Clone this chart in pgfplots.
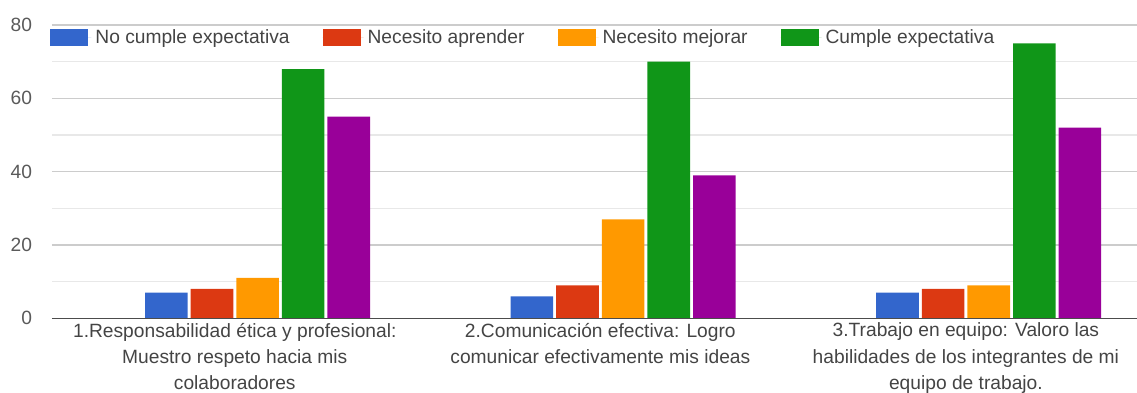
\documentclass[border=0pt]{standalone}
\usepackage{fontspec}
\setmainfont{Liberation Sans}
\usepackage{pgfplots}
\pgfplotsset{compat=1.18}
\definecolor{cblue}{HTML}{3366CC}
\definecolor{cred}{HTML}{DC3912}
\definecolor{corange}{HTML}{FF9900}
\definecolor{cgreen}{HTML}{109618}
\definecolor{cpurple}{HTML}{990099}
\definecolor{labgray}{HTML}{444444}
\definecolor{tickgray}{HTML}{5A5A5A}
\begin{document}
\begin{tikzpicture}
\path[use as bounding box] (-26pt,-36.85pt) rectangle (542.5pt,159.15pt);
\begin{axis}[
  at={(0pt,0pt)}, anchor=south west,
  scale only axis, width=542.5pt, height=146.65pt,
  ybar=1.5pt, bar width=21.3pt,
  xmin=-0.5, xmax=2.468, ymin=0, ymax=80,
  xtick={0,1,2},
  xticklabels={
    {1.Responsabilidad ética y profesional:\\Muestro respeto hacia mis\\colaboradores},
    {2.Comunicación efectiva: Logro\\comunicar efectivamente mis ideas},
    {3.Trabajo en equipo: Valoro las\\habilidades de los integrantes de mi\\equipo de trabajo.}},
  xticklabel style={align=center, font=\fontsize{9.6}{13.1}\selectfont, text=labgray, yshift=1.2pt},
  ytick={0,20,40,60,80},
  minor ytick={10,30,50,70},
  yticklabel style={font=\fontsize{9.6}{11}\selectfont, text=tickgray, xshift=-6.5pt},
  /pgf/number format/assume math mode=true,
  ymajorgrids, yminorgrids,
  major grid style={draw=black!20, line width=0.6pt},
  minor grid style={draw=black!9, line width=0.6pt},
  axis line style={draw=none},
  major tick length=0pt, minor tick length=0pt,
  tick style={draw=none},
  legend style={draw=none, fill=none, at={(rel axis cs:0,1)}, anchor=north west,
    xshift=-1pt, yshift=0pt, inner sep=0pt,
    font=\fontsize{9.6}{11}\selectfont, text=labgray,
    /tikz/every even column/.append style={column sep=14.5pt}},
  legend columns=-1,
  legend cell align=left,
]
\addplot[fill=cblue, draw=none, legend image code/.code={\fill[cblue] (0pt,-4.2pt) rectangle (19pt,4.2pt); \path (0pt,0pt) -- (20.5pt,0pt);}]
  coordinates {(0,7) (1,6) (2,7)};
\addlegendentry{No cumple expectativa}
\addplot[fill=cred, draw=none, legend image code/.code={\fill[cred] (0pt,-4.2pt) rectangle (19pt,4.2pt); \path (0pt,0pt) -- (20.5pt,0pt);}]
  coordinates {(0,8) (1,9) (2,8)};
\addlegendentry{Necesito aprender}
\addplot[fill=corange, draw=none, legend image code/.code={\fill[corange] (0pt,-4.2pt) rectangle (19pt,4.2pt); \path (0pt,0pt) -- (20.5pt,0pt);}]
  coordinates {(0,11) (1,27) (2,9)};
\addlegendentry{Necesito mejorar}
\addplot[fill=cgreen, draw=none, legend image code/.code={\fill[cgreen] (0pt,-4.2pt) rectangle (19pt,4.2pt); \path (0pt,0pt) -- (20.5pt,0pt);}]
  coordinates {(0,68) (1,70) (2,75)};
\addlegendentry{Cumple expectativa}
\addplot[fill=cpurple, draw=none, forget plot]
  coordinates {(0,55) (1,39) (2,52)};
\draw[draw=black!70, line width=0.8pt] (rel axis cs:0,0) -- (rel axis cs:1,0);
\end{axis}
\end{tikzpicture}
\end{document}
